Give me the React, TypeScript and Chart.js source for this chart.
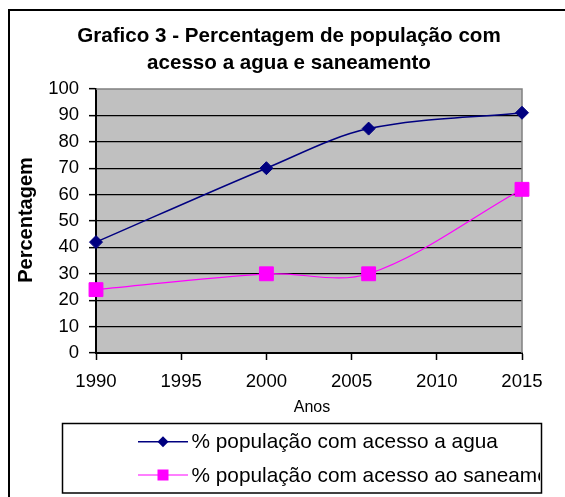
import React, { useEffect, useRef } from "react";
import { Chart, registerables } from "chart.js";

Chart.register(...registerables);

const years = [1990, 2000, 2006, 2015];
const aguaValues = [42, 70, 85, 91];
const saneamentoValues = [24, 30, 30, 62];
const titleLines = ["Grafico 3 - Percentagem de população com", "acesso a agua e saneamento"];
const yTitle = "Percentagem";
const xTitle = "Anos";
const seriesLabels = ["% população com acesso a agua", "% população com acesso ao saneamento"];

const FONT = '"Liberation Sans", Arial, sans-serif';

const decorPlugin = {
  id: "decor",
  beforeDraw(chart: any) {
    const { ctx, chartArea: a } = chart;
    ctx.save();
    ctx.strokeStyle = "#000";
    ctx.lineWidth = 2;
    ctx.beginPath();
    ctx.moveTo(9, 600);
    ctx.lineTo(9, 10);
    ctx.lineTo(600, 10);
    ctx.stroke();
    ctx.fillStyle = "#C0C0C0";
    ctx.fillRect(a.left, a.top, a.right - a.left, a.bottom - a.top);
    ctx.restore();
  },
  beforeDatasetsDraw(chart: any) {
    const { ctx, chartArea: a } = chart;
    ctx.save();
    ctx.strokeStyle = "#808080";
    ctx.lineWidth = 1.5;
    ctx.beginPath();
    ctx.moveTo(a.left, a.top);
    ctx.lineTo(a.right, a.top);
    ctx.lineTo(a.right, a.bottom);
    ctx.stroke();
    ctx.restore();
  },
  afterDraw(chart: any) {
    const { ctx } = chart;
    ctx.save();
    ctx.fillStyle = "#000";
    ctx.font = `bold 20.6px ${FONT}`;
    ctx.textAlign = "center";
    ctx.textBaseline = "alphabetic";
    ctx.fillText(titleLines[0], 289, 42);
    ctx.fillText(titleLines[1], 289, 69);
    ctx.font = `16px ${FONT}`;
    ctx.fillText(xTitle, 312, 411.5);
    ctx.save();
    ctx.translate(26, 220);
    ctx.rotate(-Math.PI / 2);
    ctx.font = `bold 20px ${FONT}`;
    ctx.textBaseline = "middle";
    ctx.fillText(yTitle, 0, 0);
    ctx.restore();

    const bx = 62.5, by = 423.5, bw = 479, bh = 69.5;
    ctx.fillStyle = "#fff";
    ctx.fillRect(bx, by, bw, bh);
    ctx.strokeStyle = "#000";
    ctx.lineWidth = 1.5;
    ctx.strokeRect(bx, by, bw, bh);
    ctx.save();
    ctx.beginPath();
    ctx.rect(bx + 1, by + 1, bw - 2.5, bh - 2);
    ctx.clip();
    const rows = [441.7, 475];
    chart.data.datasets.forEach((ds: any, i: number) => {
      const y = rows[i];
      ctx.strokeStyle = ds.borderColor;
      ctx.lineWidth = ds.borderWidth;
      ctx.beginPath();
      ctx.moveTo(138, y);
      ctx.lineTo(188, y);
      ctx.stroke();
      ctx.fillStyle = ds.borderColor;
      ctx.beginPath();
      if (ds.pointStyle === "rectRot") {
        ctx.moveTo(163 - 5.5, y);
        ctx.lineTo(163, y - 5.5);
        ctx.lineTo(163 + 5.5, y);
        ctx.lineTo(163, y + 5.5);
        ctx.closePath();
      } else {
        ctx.rect(163 - 5.5, y - 5.5, 11, 11);
      }
      ctx.fill();
      ctx.fillStyle = "#000";
      ctx.font = `20.8px ${FONT}`;
      ctx.textAlign = "left";
      ctx.textBaseline = "middle";
      ctx.fillText(ds.label, 191.5, y + 1);
    });
    ctx.restore();
    ctx.restore();
  },
};

export default function App() {
  const ref = useRef<HTMLCanvasElement>(null);
  useEffect(() => {
    if (!ref.current) return;
    const chart = new Chart(ref.current, {
      type: "line",
      data: {
        datasets: [
          {
            label: seriesLabels[0],
            data: years.map((x, i) => ({ x, y: aguaValues[i] })),
            borderColor: "#000080",
            backgroundColor: "#000080",
            borderWidth: 1.5,
            pointStyle: "rectRot",
            pointRadius: 6.5,
            pointBorderWidth: 1,
            pointBorderColor: "#000080",
            tension: 0.33,
            fill: false,
            clip: false,
          },
          {
            label: seriesLabels[1],
            data: years.map((x, i) => ({ x, y: saneamentoValues[i] })),
            borderColor: "#FF00FF",
            backgroundColor: "#FF00FF",
            borderWidth: 1.2,
            pointStyle: "rect",
            pointRadius: 9.8,
            pointBorderWidth: 1,
            pointBorderColor: "#FF00FF",
            tension: 0.33,
            fill: false,
            clip: false,
          },
        ],
      },
      options: {
        animation: false,
        responsive: false,
        maintainAspectRatio: false,
        layout: { padding: { left: 0, top: 89, right: 43, bottom: 0 } },
        plugins: {
          legend: { display: false },
          title: { display: false },
          tooltip: { enabled: false },
        },
        scales: {
          x: {
            type: "linear",
            min: 1990,
            max: 2015,
            afterFit: (s: any) => {
              s.height = 144;
            },
            ticks: {
              stepSize: 5,
              color: "#000",
              padding: 11,
              font: { family: FONT, size: 18.6 },
              callback: (v: any) => String(v),
            },
            grid: {
              drawOnChartArea: false,
              drawTicks: true,
              tickLength: 7,
              tickColor: "#000",
              tickWidth: 1.5,
            },
            border: { display: true, color: "#000", width: 2 },
          },
          y: {
            min: 0,
            max: 100,
            afterFit: (s: any) => {
              s.width = 96;
            },
            ticks: {
              stepSize: 10,
              color: "#000",
              padding: 10,
              font: { family: FONT, size: 18.5 },
            },
            grid: {
              color: (c: any) => (c.tick && c.tick.value === 100 ? "rgba(0,0,0,0)" : "#000"),
              lineWidth: 1.3,
              tickLength: 7,
              tickColor: "#000",
              tickWidth: 1.5,
            },
            border: { display: true, color: "#000", width: 2 },
          },
        },
      },
      plugins: [decorPlugin],
    });
    return () => chart.destroy();
  }, []);
  return (
    <div style={{ position: "fixed", left: 0, top: 0, width: 565, height: 497, overflow: "hidden", background: "#fff" }}>
      <canvas ref={ref} width={565} height={497} style={{ display: "block", width: 565, height: 497 }} />
    </div>
  );
}
